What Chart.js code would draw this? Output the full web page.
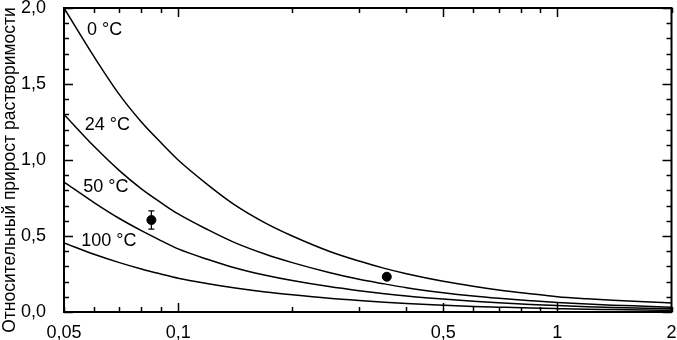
<!DOCTYPE html>
<html>
<head>
<meta charset="utf-8">
<script src="https://cdn.jsdelivr.net/npm/chart.js@4"></script>
<style>
  html, body { margin: 0; padding: 0; background: #fff; }
  #wrap { width: 677px; height: 340px; }
</style>
</head>
<body>
<div id="wrap"><canvas id="c" width="677" height="340"></canvas></div>
<script>
// concentration axis (log) and relative solubility increase
const xs = [0.05, 0.06, 0.07, 0.08, 0.09, 0.1, 0.12, 0.14, 0.17, 0.2, 0.25, 0.3, 0.35, 0.4, 0.5, 0.6, 0.7, 0.85, 1, 1.2, 1.4, 1.7, 2];
const curve0 = [2.0, 1.68, 1.43, 1.25, 1.115, 1.0, 0.835, 0.71, 0.585, 0.5, 0.4, 0.335, 0.287, 0.252, 0.202, 0.169, 0.145, 0.12, 0.101, 0.087, 0.077, 0.067, 0.06];
const curve24 = [1.30, 1.09, 0.93, 0.81, 0.72, 0.645, 0.54, 0.46, 0.38, 0.325, 0.26, 0.215, 0.185, 0.16, 0.127, 0.105, 0.09, 0.074, 0.062, 0.052, 0.045, 0.038, 0.032];
const curve50 = [0.855, 0.72, 0.615, 0.535, 0.47, 0.415, 0.345, 0.293, 0.242, 0.207, 0.167, 0.14, 0.12, 0.105, 0.085, 0.071, 0.061, 0.05, 0.042, 0.035, 0.03, 0.025, 0.021];
const curve100 = [0.455, 0.38, 0.325, 0.283, 0.25, 0.222, 0.186, 0.16, 0.132, 0.113, 0.09, 0.075, 0.064, 0.056, 0.045, 0.037, 0.032, 0.026, 0.022, 0.018, 0.016, 0.013, 0.011];
const curveNames = ['0 °C', '24 °C', '50 °C', '100 °C'];

// measured points with error bars
const pointX = [0.085, 0.355];
const pointY = [0.605, 0.232];
const pointErr = [0.06, 0.02];

const xTickVals = [0.05, 0.06, 0.07, 0.08, 0.09, 0.1, 0.2, 0.3, 0.4, 0.5, 0.6, 0.7, 0.8, 0.9, 1, 2];
const xTickLabels = [0.05, 0.1, 0.5, 1, 2];
const xMajor = [0.1, 0.5, 1];
const yTitle = 'Относительный прирост растворимости';

const FONT = "'Liberation Sans', Arial, sans-serif";

function curveSet(vals) {
  return {
    type: 'line',
    data: xs.map((x, i) => ({ x: x, y: vals[i] })),
    borderColor: '#000',
    borderWidth: 1.5,
    pointRadius: 0,
    cubicInterpolationMode: 'monotone',
    fill: false
  };
}

// box, inward ticks, error bars, curve labels, axis title
const decor = {
  id: 'decor',
  afterDatasetsDraw(chart) {
    const ctx = chart.ctx;
    const a = chart.chartArea;
    const sx = chart.scales.x, sy = chart.scales.y;
    ctx.save();
    ctx.strokeStyle = '#000';
    ctx.lineWidth = 1.5;
    sx.ticks.forEach(t => {
      const px = Math.round(sx.getPixelForValue(t.value)) + 0.5;
      const len = xMajor.includes(t.value) ? 9 : 5;
      ctx.beginPath();
      ctx.moveTo(px, a.bottom); ctx.lineTo(px, a.bottom - len);
      ctx.moveTo(px, a.top); ctx.lineTo(px, a.top + len);
      ctx.stroke();
    });
    sy.ticks.forEach(t => {
      const py = Math.round(sy.getPixelForValue(t.value)) + 0.5;
      const major = Math.abs(t.value * 2 - Math.round(t.value * 2)) < 1e-6;
      const len = major ? 9 : 5;
      ctx.beginPath();
      ctx.moveTo(a.left, py); ctx.lineTo(a.left + len, py);
      ctx.moveTo(a.right, py); ctx.lineTo(a.right - len, py);
      ctx.stroke();
    });
    ctx.lineWidth = 2;
    ctx.strokeRect(a.left, a.top, a.right - a.left, a.bottom - a.top);

    ctx.lineWidth = 1.2;
    pointX.forEach((x, i) => {
      const px = sx.getPixelForValue(x);
      const y1 = sy.getPixelForValue(pointY[i] + pointErr[i]);
      const y2 = sy.getPixelForValue(pointY[i] - pointErr[i]);
      ctx.beginPath();
      ctx.moveTo(px, y1); ctx.lineTo(px, y2);
      ctx.moveTo(px - 3, y1); ctx.lineTo(px + 3, y1);
      ctx.moveTo(px - 3, y2); ctx.lineTo(px + 3, y2);
      ctx.stroke();
    });

    const spots = [[0.0575, 1.855], [0.0567, 1.23], [0.0562, 0.82], [0.0555, 0.47]];
    ctx.fillStyle = '#000';
    ctx.font = '18px ' + FONT;
    ctx.textBaseline = 'middle';
    ctx.textAlign = 'left';
    curveNames.forEach((s, i) => {
      ctx.fillText(s, sx.getPixelForValue(spots[i][0]), sy.getPixelForValue(spots[i][1]));
    });

    ctx.translate(10, 170);
    ctx.rotate(-Math.PI / 2);
    ctx.textAlign = 'center';
    ctx.font = '17.5px ' + FONT;
    ctx.fillText(yTitle, 0, 0);
    ctx.restore();
  }
};

new Chart(document.getElementById('c'), {
  type: 'line',
  data: {
    datasets: [
      curveSet(curve0),
      curveSet(curve24),
      curveSet(curve50),
      curveSet(curve100),
      {
        type: 'scatter',
        data: pointX.map((x, i) => ({ x: x, y: pointY[i] })),
        backgroundColor: '#000',
        borderColor: '#000',
        pointRadius: 4.5
      }
    ]
  },
  options: {
    responsive: false,
    animation: false,
    layout: { padding: { top: 0, right: 5, left: 0, bottom: 0 } },
    plugins: { legend: { display: false }, tooltip: { enabled: false } },
    scales: {
      x: {
        type: 'logarithmic',
        min: 0.05,
        max: 2,
        afterBuildTicks(scale) { scale.ticks = xTickVals.map(v => ({ value: v })); },
        afterFit(scale) { scale.height = 28; scale.paddingLeft = 0; scale.paddingRight = 0; },
        grid: { display: false },
        border: { display: false },
        ticks: {
          autoSkip: false,
          maxRotation: 0,
          padding: 2,
          color: '#000',
          font: { family: FONT, size: 18 },
          callback: v => xTickLabels.includes(v) ? String(v).replace('.', ',') : ''
        }
      },
      y: {
        min: 0,
        max: 2,
        afterFit(scale) { scale.width = 64; scale.paddingTop = 8; scale.paddingBottom = 0; },
        grid: { display: false },
        border: { display: false },
        ticks: {
          stepSize: 0.1,
          autoSkip: false,
          padding: 10,
          color: '#000',
          font: { family: FONT, size: 18 },
          callback: v => Math.abs(v * 2 - Math.round(v * 2)) < 1e-6 ? v.toFixed(1).replace('.', ',') : ''
        }
      }
    }
  },
  plugins: [decor]
});
</script>
</body>
</html>
